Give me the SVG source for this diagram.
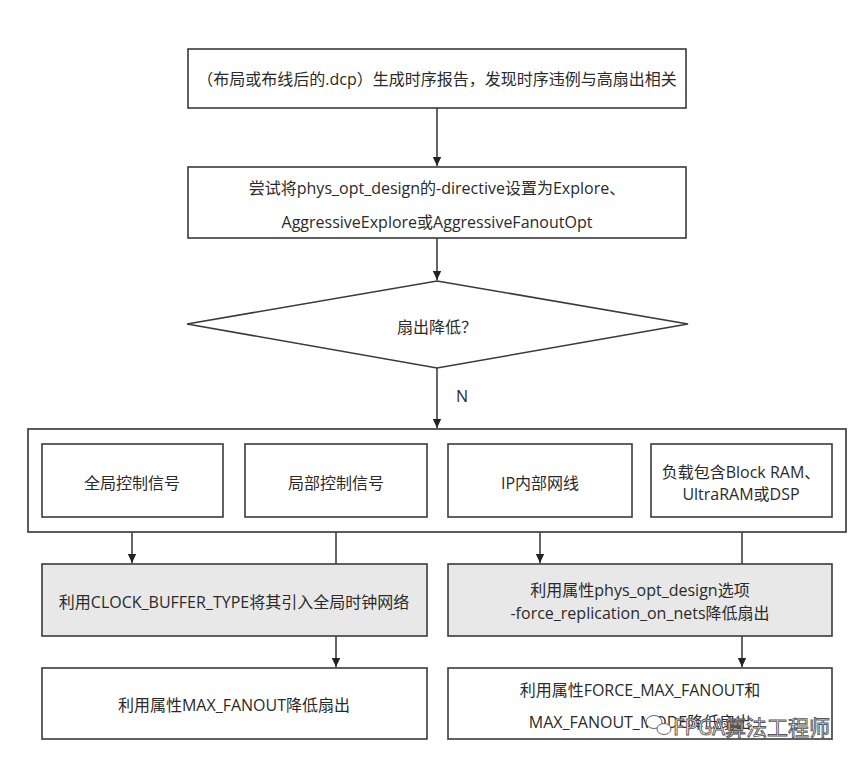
<svg xmlns="http://www.w3.org/2000/svg" width="865" height="763" viewBox="0 0 865 763">
<style>
.box{fill:#fff;stroke:#3a3a3a;stroke-width:1.6}
.gray{fill:#e8e8e8;stroke:#3a3a3a;stroke-width:1.6}
.outer{fill:#fff;stroke:#4a4a4a;stroke-width:1.8}
.t{font-family:"Open Sans","Noto Sans CJK SC",sans-serif;font-size:16px;fill:#2a2a2a;text-anchor:middle;dominant-baseline:central}
.c{fill:none;stroke:#333;stroke-width:1.5}
.wm{font-family:"Noto Sans CJK SC",sans-serif;font-size:21px;fill:#fff;stroke:#555;stroke-width:0.9;dominant-baseline:central}
</style>
<defs>
<marker id="ah" markerWidth="10" markerHeight="10" refX="9" refY="5" orient="auto" markerUnits="userSpaceOnUse">
<path d="M0,0.8 L9,5 L0,9.2 Z" fill="#222"/>
</marker>
</defs>
<rect width="865" height="763" fill="#fff"/>
<g id="connectors">
<line class="c" x1="437" y1="108" x2="437" y2="166" marker-end="url(#ah)"/>
<line class="c" x1="437" y1="238" x2="437" y2="280" marker-end="url(#ah)"/>
<line class="c" x1="437" y1="368" x2="437" y2="428" marker-end="url(#ah)"/>
<line class="c" x1="132" y1="517" x2="132" y2="563" marker-end="url(#ah)"/>
<line class="c" x1="336" y1="517" x2="336" y2="667" marker-end="url(#ah)"/>
<line class="c" x1="540" y1="517" x2="540" y2="563" marker-end="url(#ah)"/>
<line class="c" x1="742" y1="517" x2="742" y2="667" marker-end="url(#ah)"/>
</g>
<g id="n-report">
<rect class="box" x="188" y="49" width="498" height="59"/>
<text class="t" x="437" y="79">（布局或布线后的.dcp）生成时序报告，发现时序违例与高扇出相关</text>
</g>
<g id="n-directive">
<rect class="box" x="188" y="167" width="498" height="71"/>
<text class="t" x="437" y="188">尝试将phys_opt_design的-directive设置为Explore、</text>
<text class="t" x="437" y="222">AggressiveExplore或AggressiveFanoutOpt</text>
</g>
<g id="n-decision">
<polygon class="box" points="437,281 688,324 437,368 187,324"/>
<text class="t" x="437" y="326" style="font-family:'Noto Sans CJK SC',sans-serif">扇出降低？</text>
<text class="t" x="456" y="396" style="text-anchor:start">N</text>
</g>
<g id="n-group">
<rect class="outer" x="28" y="429" width="818" height="103"/>
</g>
<g id="n-global">
<rect class="box" x="42" y="444" width="181" height="73"/>
<text class="t" x="132" y="483">全局控制信号</text>
</g>
<g id="n-local">
<rect class="box" x="245" y="444" width="182" height="73"/>
<text class="t" x="336" y="483">局部控制信号</text>
</g>
<g id="n-ip">
<rect class="box" x="448" y="444" width="184" height="73"/>
<text class="t" x="540" y="483">IP内部网线</text>
</g>
<g id="n-load">
<rect class="box" x="651" y="444" width="181" height="73"/>
<text class="t" x="741" y="472">负载包含Block RAM、</text>
<text class="t" x="741" y="494">UltraRAM或DSP</text>
</g>
<g id="n-clockbuf">
<rect class="gray" x="42" y="564" width="385" height="72"/>
<text class="t" x="234" y="602">利用CLOCK_BUFFER_TYPE将其引入全局时钟网络</text>
</g>
<g id="n-replication">
<rect class="gray" x="448" y="564" width="384" height="72"/>
<text class="t" x="640" y="590">利用属性phys_opt_design选项</text>
<text class="t" x="640" y="613">-force_replication_on_nets降低扇出</text>
</g>
<g id="n-maxfanout">
<rect class="box" x="42" y="668" width="385" height="71"/>
<text class="t" x="234" y="705">利用属性MAX_FANOUT降低扇出</text>
</g>
<g id="n-forcemax">
<rect class="box" x="448" y="668" width="384" height="71"/>
<text class="t" x="640" y="690">利用属性FORCE_MAX_FANOUT和</text>
<text class="t" x="640" y="722">MAX_FANOUT_MODE降低扇出</text>
</g>
<g id="watermark">
<ellipse cx="654" cy="722" rx="8" ry="6.5" fill="#fff" stroke="#666" stroke-width="1"/>
<ellipse cx="664" cy="729" rx="7" ry="5.5" fill="#fff" stroke="#666" stroke-width="1"/>
<text class="wm" x="673" y="726">FPGA算法工程师</text>
</g>
</svg>
